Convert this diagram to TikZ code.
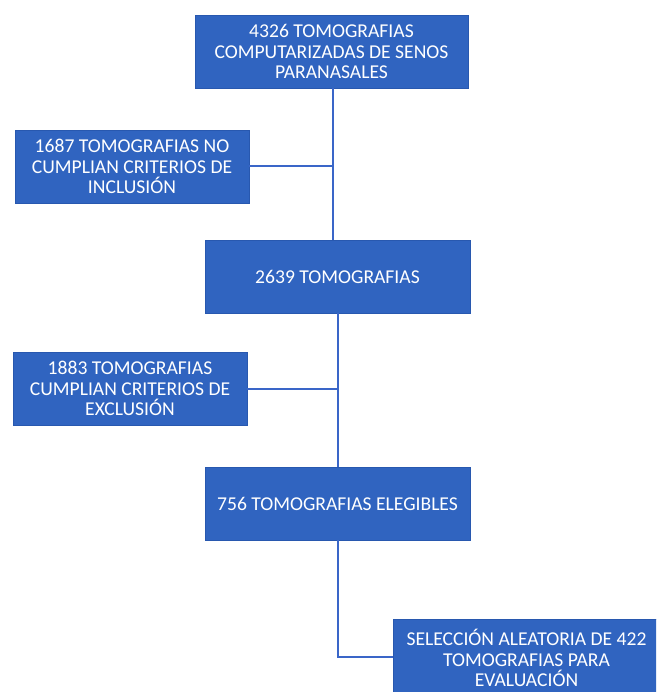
\documentclass[tikz,border=0pt]{standalone}
\usepackage{fontspec}
\setmainfont{Carlito}
\definecolor{boxfill}{RGB}{48,100,192}
\definecolor{boxedge}{RGB}{40,88,175}
\definecolor{linecol}{RGB}{58,102,200}
\begin{document}
\begin{tikzpicture}[x=1pt,y=-1pt,
  flowbox/.style={draw=boxedge,line width=0.8pt,fill=boxfill,text=white,align=center,
    inner sep=0pt,font=\fontsize{19.6}{20.5}\selectfont},
  conn/.style={draw=linecol,line width=2pt}]
\useasboundingbox (0,0) rectangle (656,692);
\clip (0,0) rectangle (656,692);
\node[flowbox,minimum width=273pt,minimum height=73pt] (b1) at (331.5,51.5)
  {4326 TOMOGRAFIAS\\COMPUTARIZADAS DE SENOS\\PARANASALES};
\node[flowbox,minimum width=234pt,minimum height=73pt] (b2) at (132,166.5)
  {1687 TOMOGRAFIAS NO\\CUMPLIAN CRITERIOS DE\\INCLUSIÓN};
\node[flowbox,minimum width=265pt,minimum height=73pt] (b3) at (337.5,276.5)
  {2639 TOMOGRAFIAS};
\node[flowbox,minimum width=234pt,minimum height=73pt] (b4) at (130,388.5)
  {1883 TOMOGRAFIAS\\CUMPLIAN CRITERIOS DE\\EXCLUSIÓN};
\node[flowbox,minimum width=265pt,minimum height=73pt] (b5) at (337.5,503.5)
  {756 TOMOGRAFIAS ELEGIBLES};
\node[flowbox,minimum width=267pt,minimum height=78pt] (b6) at (526.5,658)
  {SELECCIÓN ALEATORIA DE 422\\TOMOGRAFIAS PARA\\EVALUACIÓN};
\coordinate (t1) at ([xshift=1.5pt]b1.south);
\coordinate (t2) at (b3.south);
\draw[conn] (t1) -- (t1 |- b3.north);
\draw[conn] (b2.east) -- (b2.east -| t1);
\draw[conn] (t2) -- (t2 |- b5.north);
\draw[conn] (b4.east) -- (b4.east -| t2);
\draw[conn] (b5.south) |- ([yshift=1pt]b6.west);
\end{tikzpicture}
\end{document}
